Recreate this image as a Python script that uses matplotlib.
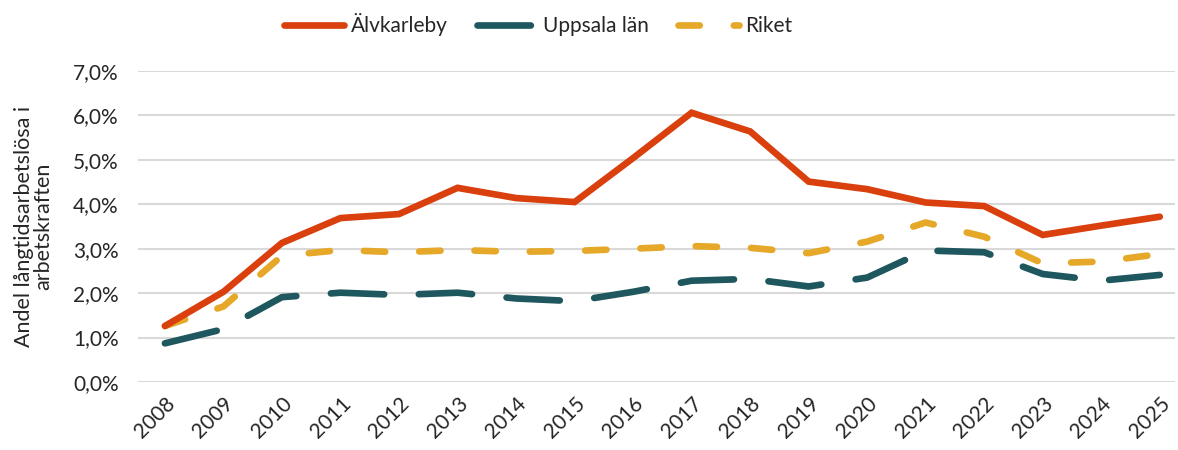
import matplotlib.pyplot as plt
from matplotlib.ticker import FuncFormatter

plt.rcParams['font.family'] = ['Lato', 'DejaVu Sans']

years = list(range(2008, 2026))
alvkarleby = [1.26, 2.03, 3.13, 3.69, 3.78, 4.37, 4.14, 4.05, 5.04, 6.06,
              5.64, 4.51, 4.34, 4.04, 3.96, 3.31, 3.52, 3.72]
uppsala = [0.87, 1.19, 1.91, 2.01, 1.96, 2.01, 1.88, 1.82, 2.03, 2.28,
           2.32, 2.15, 2.35, 2.96, 2.92, 2.43, 2.28, 2.41]
riket = [1.26, 1.70, 2.84, 2.97, 2.92, 2.97, 2.93, 2.95, 3.00, 3.06,
         3.02, 2.90, 3.16, 3.59, 3.27, 2.67, 2.71, 2.88]

textfarg = '#262626'

fig = plt.figure(figsize=(11.78, 4.5), dpi=100)
ax = fig.add_axes([138 / 1178, 1 - 382 / 450, (1175 - 138) / 1178, (382 - 71) / 450])

ax.plot(years, alvkarleby, color='#D9400E', lw=4.8, solid_capstyle='round',
        solid_joinstyle='miter', label='Älvkarleby', zorder=3)
ax.plot(years, uppsala, color='#1F575E', lw=4.8, dashes=(8.0, 5.2),
        dash_capstyle='round', label='Uppsala län', zorder=2)
ax.plot(years, riket, color='#E5A828', lw=4.8, dashes=(3.2, 5.1),
        dash_capstyle='round', label='Riket', zorder=2)

ax.set_ylim(0, 7)
ax.set_xlim(2007.54, 2025.26)
ax.set_yticks(range(0, 8))
ax.yaxis.set_major_formatter(FuncFormatter(lambda v, p: f'{v:.1f}%'.replace('.', ',')))
ax.set_xticks(years)
ax.set_xticklabels([str(y) for y in years], rotation=45, ha='right',
                   va='top', rotation_mode='anchor', fontsize=15, color=textfarg)
for lab in ax.get_yticklabels():
    lab.set_fontsize(15)
    lab.set_color(textfarg)

ax.grid(axis='y', color='#D9D9D9', lw=1.5)
ax.set_axisbelow(True)
for s in ax.spines.values():
    s.set_visible(False)
ax.tick_params(length=0, pad=14)
ax.tick_params(axis='x', pad=8)

ax.set_ylabel('Andel långtidsarbetslösa i\narbetskraften', fontsize=15.5,
              color=textfarg, labelpad=14, linespacing=0.95)

fig.legend(*ax.get_legend_handles_labels(), loc='center',
           bbox_to_anchor=(538 / 1178, 1 - 25 / 450), ncol=3, frameon=False,
           fontsize=15, handlelength=2.9, columnspacing=1.4, handletextpad=0.3,
           labelcolor=textfarg)

fig.savefig('out.png', dpi=100)
